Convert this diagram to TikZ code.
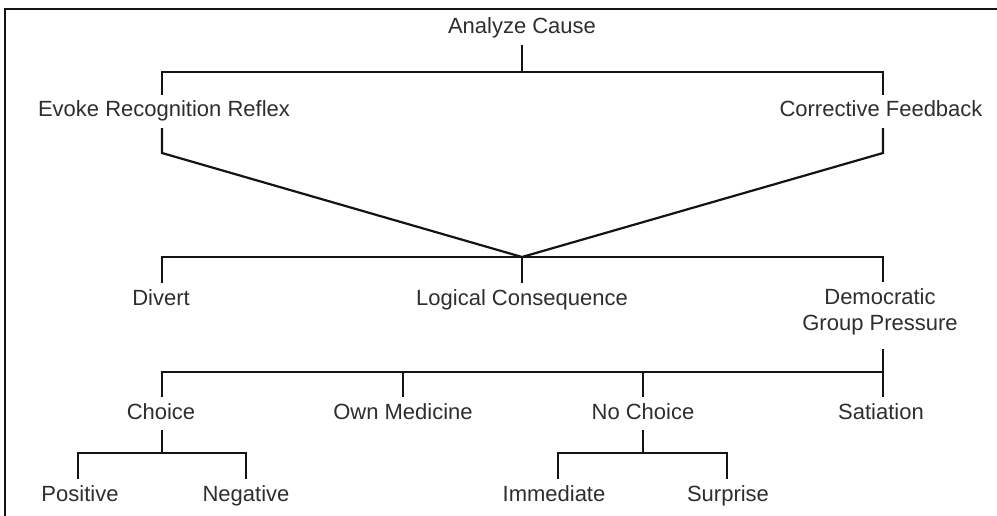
\documentclass[tikz,border=0pt]{standalone}
\usepackage{fontspec}
\setmainfont{Liberation Sans}
\definecolor{ink}{HTML}{141414}
\definecolor{txt}{HTML}{2E2E2E}
\begin{document}
\begin{tikzpicture}[x=1pt,y=-1pt,
  lbl/.style={anchor=base,inner xsep=0pt,inner ysep=6pt,text height=16pt,text depth=5pt,
              text=txt,font=\fontsize{22}{26}\selectfont},
  lbl2/.style={anchor=north,inner xsep=0pt,inner ysep=6pt,align=center,
              text=txt,font=\fontsize{22}{26}\selectfont},
  link/.style={draw=ink,line width=2.2pt},
  frame/.style={draw=ink,line width=2pt}]
\useasboundingbox[fill=white] (0,0) rectangle (997,516);
% outer frame (left and top edges)
\draw[frame] (5,516) -- (5,9) -- (997,9);

% labels
\node[lbl] (ac)       at (522,34)  {Analyze Cause};
\node[lbl] (evoke)    at (164,117) {Evoke Recognition Reflex};
\node[lbl] (cf)       at (881,117) {Corrective Feedback};
\node[lbl] (divert)   at (161,305) {Divert};
\node[lbl] (logic)    at (522,305) {Logical Consequence};
\node[lbl2] (dem)     at (880,282) {Democratic\\Group Pressure};
\node[lbl] (choice)   at (161,419) {Choice};
\node[lbl] (ownmed)   at (403,419) {Own Medicine};
\node[lbl] (nochoice) at (643,419) {No Choice};
\node[lbl] (sat)      at (881,419) {Satiation};
\node[lbl] (pos)      at (80,501)  {Positive};
\node[lbl] (neg)      at (246,501) {Negative};
\node[lbl] (imm)      at (554,501) {Immediate};
\node[lbl] (sur)      at (728,501) {Surprise};

% junctions, bends and bar ends
\coordinate (j1) at (522,72);
\coordinate (ek) at (162,153);
\coordinate (ck) at (883,153);
\coordinate (j2) at (522,257);
\coordinate (j3) at (883,372);
\coordinate (j4) at (162,453);
\coordinate (j5) at (643,453);
\coordinate (pb) at (78,453);
\coordinate (nb) at (246,453);
\coordinate (ib) at (558,453);
\coordinate (sb) at (727,453);

% Analyze Cause -> two branches
\draw[link] (ac.south) -- (j1);
\draw[link] (evoke.north -| ek) -- (ek |- j1) -- (ck |- j1) -- (cf.north -| ck);
% both branches converge
\draw[link] (evoke.south -| ek) -- (ek) -- (j2) -- (ck) -- (cf.south -| ck);
% second level
\draw[link] (divert.north -| ek) -- (ek |- j2) -- (ck |- j2) -- (dem.north -| ck);
\draw[link] (logic.north) -- (j2);
% third level
\draw[link,shorten <=8pt] (dem.south -| j3) -- (j3);
\draw[link] (choice.north -| j4) -- (j4 |- j3) -- (j3) -- (sat.north -| j3);
\draw[link] (ownmed.north) -- (ownmed.north |- j3);
\draw[link] (nochoice.north) -- (nochoice.north |- j3);
% fourth level
\draw[link] (choice.south -| j4) -- (j4);
\draw[link] (pos.north -| pb) -- (pb) -- (nb) -- (neg.north -| nb);
\draw[link] (nochoice.south) -- (j5);
\draw[link] (imm.north -| ib) -- (ib) -- (sb) -- (sur.north -| sb);
\end{tikzpicture}
\end{document}
